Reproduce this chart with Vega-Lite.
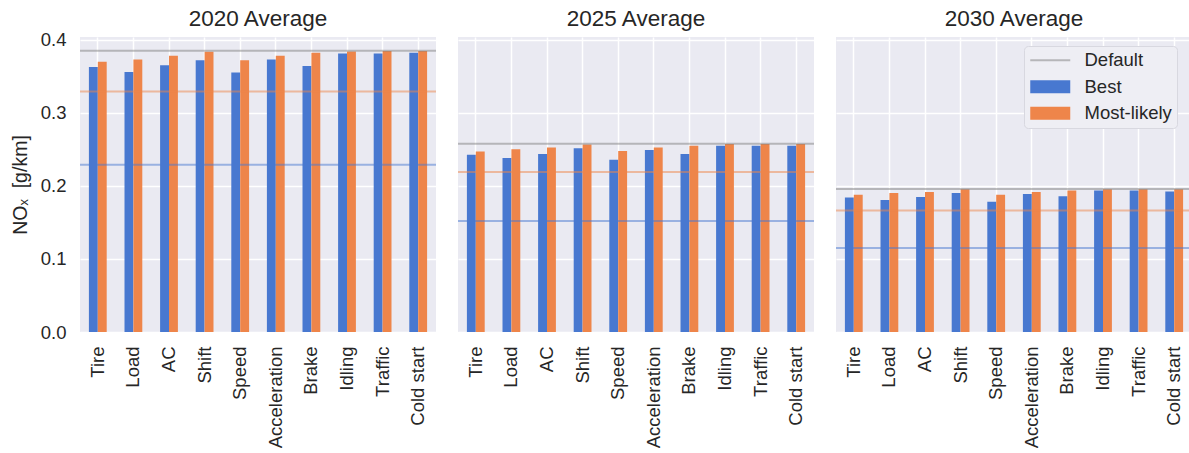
{
  "$schema": "https://vega.github.io/schema/vega-lite/v6.json",
  "padding": {"left": 10, "top": 7, "right": 0, "bottom": 0},
  "background": "white",
  "data": {
    "values": [
      {"kind": "bar", "year": "2020 Average", "factor": "Tire", "series": "Best", "value": 0.3625},
      {"kind": "bar", "year": "2020 Average", "factor": "Tire", "series": "Most-likely", "value": 0.370},
      {"kind": "bar", "year": "2020 Average", "factor": "Load", "series": "Best", "value": 0.3557},
      {"kind": "bar", "year": "2020 Average", "factor": "Load", "series": "Most-likely", "value": 0.373},
      {"kind": "bar", "year": "2020 Average", "factor": "AC", "series": "Best", "value": 0.365},
      {"kind": "bar", "year": "2020 Average", "factor": "AC", "series": "Most-likely", "value": 0.378},
      {"kind": "bar", "year": "2020 Average", "factor": "Shift", "series": "Best", "value": 0.372},
      {"kind": "bar", "year": "2020 Average", "factor": "Shift", "series": "Most-likely", "value": 0.3835},
      {"kind": "bar", "year": "2020 Average", "factor": "Speed", "series": "Best", "value": 0.355},
      {"kind": "bar", "year": "2020 Average", "factor": "Speed", "series": "Most-likely", "value": 0.372},
      {"kind": "bar", "year": "2020 Average", "factor": "Acceleration", "series": "Best", "value": 0.373},
      {"kind": "bar", "year": "2020 Average", "factor": "Acceleration", "series": "Most-likely", "value": 0.378},
      {"kind": "bar", "year": "2020 Average", "factor": "Brake", "series": "Best", "value": 0.364},
      {"kind": "bar", "year": "2020 Average", "factor": "Brake", "series": "Most-likely", "value": 0.382},
      {"kind": "bar", "year": "2020 Average", "factor": "Idling", "series": "Best", "value": 0.381},
      {"kind": "bar", "year": "2020 Average", "factor": "Idling", "series": "Most-likely", "value": 0.384},
      {"kind": "bar", "year": "2020 Average", "factor": "Traffic", "series": "Best", "value": 0.381},
      {"kind": "bar", "year": "2020 Average", "factor": "Traffic", "series": "Most-likely", "value": 0.3845},
      {"kind": "bar", "year": "2020 Average", "factor": "Cold start", "series": "Best", "value": 0.382},
      {"kind": "bar", "year": "2020 Average", "factor": "Cold start", "series": "Most-likely", "value": 0.3845},

      {"kind": "bar", "year": "2025 Average", "factor": "Tire", "series": "Best", "value": 0.2426},
      {"kind": "bar", "year": "2025 Average", "factor": "Tire", "series": "Most-likely", "value": 0.247},
      {"kind": "bar", "year": "2025 Average", "factor": "Load", "series": "Best", "value": 0.238},
      {"kind": "bar", "year": "2025 Average", "factor": "Load", "series": "Most-likely", "value": 0.250},
      {"kind": "bar", "year": "2025 Average", "factor": "AC", "series": "Best", "value": 0.2435},
      {"kind": "bar", "year": "2025 Average", "factor": "AC", "series": "Most-likely", "value": 0.2526},
      {"kind": "bar", "year": "2025 Average", "factor": "Shift", "series": "Best", "value": 0.2513},
      {"kind": "bar", "year": "2025 Average", "factor": "Shift", "series": "Most-likely", "value": 0.2567},
      {"kind": "bar", "year": "2025 Average", "factor": "Speed", "series": "Best", "value": 0.2357},
      {"kind": "bar", "year": "2025 Average", "factor": "Speed", "series": "Most-likely", "value": 0.2476},
      {"kind": "bar", "year": "2025 Average", "factor": "Acceleration", "series": "Best", "value": 0.249},
      {"kind": "bar", "year": "2025 Average", "factor": "Acceleration", "series": "Most-likely", "value": 0.2526},
      {"kind": "bar", "year": "2025 Average", "factor": "Brake", "series": "Best", "value": 0.2435},
      {"kind": "bar", "year": "2025 Average", "factor": "Brake", "series": "Most-likely", "value": 0.255},
      {"kind": "bar", "year": "2025 Average", "factor": "Idling", "series": "Best", "value": 0.255},
      {"kind": "bar", "year": "2025 Average", "factor": "Idling", "series": "Most-likely", "value": 0.2572},
      {"kind": "bar", "year": "2025 Average", "factor": "Traffic", "series": "Best", "value": 0.255},
      {"kind": "bar", "year": "2025 Average", "factor": "Traffic", "series": "Most-likely", "value": 0.2572},
      {"kind": "bar", "year": "2025 Average", "factor": "Cold start", "series": "Best", "value": 0.255},
      {"kind": "bar", "year": "2025 Average", "factor": "Cold start", "series": "Most-likely", "value": 0.2572},

      {"kind": "bar", "year": "2030 Average", "factor": "Tire", "series": "Best", "value": 0.1842},
      {"kind": "bar", "year": "2030 Average", "factor": "Tire", "series": "Most-likely", "value": 0.1879},
      {"kind": "bar", "year": "2030 Average", "factor": "Load", "series": "Best", "value": 0.1806},
      {"kind": "bar", "year": "2030 Average", "factor": "Load", "series": "Most-likely", "value": 0.1902},
      {"kind": "bar", "year": "2030 Average", "factor": "AC", "series": "Best", "value": 0.1847},
      {"kind": "bar", "year": "2030 Average", "factor": "AC", "series": "Most-likely", "value": 0.1915},
      {"kind": "bar", "year": "2030 Average", "factor": "Shift", "series": "Best", "value": 0.1902},
      {"kind": "bar", "year": "2030 Average", "factor": "Shift", "series": "Most-likely", "value": 0.1952},
      {"kind": "bar", "year": "2030 Average", "factor": "Speed", "series": "Best", "value": 0.1783},
      {"kind": "bar", "year": "2030 Average", "factor": "Speed", "series": "Most-likely", "value": 0.1879},
      {"kind": "bar", "year": "2030 Average", "factor": "Acceleration", "series": "Best", "value": 0.1888},
      {"kind": "bar", "year": "2030 Average", "factor": "Acceleration", "series": "Most-likely", "value": 0.1915},
      {"kind": "bar", "year": "2030 Average", "factor": "Brake", "series": "Best", "value": 0.1856},
      {"kind": "bar", "year": "2030 Average", "factor": "Brake", "series": "Most-likely", "value": 0.1938},
      {"kind": "bar", "year": "2030 Average", "factor": "Idling", "series": "Best", "value": 0.1938},
      {"kind": "bar", "year": "2030 Average", "factor": "Idling", "series": "Most-likely", "value": 0.1952},
      {"kind": "bar", "year": "2030 Average", "factor": "Traffic", "series": "Best", "value": 0.1938},
      {"kind": "bar", "year": "2030 Average", "factor": "Traffic", "series": "Most-likely", "value": 0.1952},
      {"kind": "bar", "year": "2030 Average", "factor": "Cold start", "series": "Best", "value": 0.1924},
      {"kind": "bar", "year": "2030 Average", "factor": "Cold start", "series": "Most-likely", "value": 0.1952},

      {"kind": "line", "year": "2020 Average", "series": "Default", "value": 0.385},
      {"kind": "line", "year": "2020 Average", "series": "Best", "value": 0.229},
      {"kind": "line", "year": "2020 Average", "series": "Most-likely", "value": 0.329},
      {"kind": "line", "year": "2025 Average", "series": "Default", "value": 0.2576},
      {"kind": "line", "year": "2025 Average", "series": "Best", "value": 0.152},
      {"kind": "line", "year": "2025 Average", "series": "Most-likely", "value": 0.219},
      {"kind": "line", "year": "2030 Average", "series": "Default", "value": 0.1956},
      {"kind": "line", "year": "2030 Average", "series": "Best", "value": 0.115},
      {"kind": "line", "year": "2030 Average", "series": "Most-likely", "value": 0.1664}
    ]
  },
  "facet": {
    "column": {
      "field": "year",
      "type": "nominal",
      "title": null,
      "header": {
        "labelFont": "Liberation Sans",
        "labelFontSize": 22.5,
        "labelColor": "#262626",
        "labelPadding": 7
      }
    }
  },
  "spacing": 20,
  "spec": {
    "width": 356,
    "height": 295,
    "layer": [
      {
        "transform": [{"filter": "datum.kind === 'bar'"}],
        "mark": {"type": "bar"},
        "encoding": {
          "x": {
            "field": "factor",
            "type": "nominal",
            "sort": ["Tire", "Load", "AC", "Shift", "Speed", "Acceleration", "Brake", "Idling", "Traffic", "Cold start"],
            "scale": {"paddingInner": 0, "paddingOuter": 0},
            "title": null,
            "axis": {"labelAngle": -90, "labelPadding": 14, "grid": true, "bandPosition": 0.5}
          },
          "xOffset": {
            "field": "series",
            "type": "nominal",
            "sort": ["Best", "Most-likely"],
            "scale": {"paddingInner": 0, "paddingOuter": 1}
          },
          "y": {
            "field": "value",
            "type": "quantitative",
            "scale": {"domain": [0, 0.4037], "nice": false, "zero": true},
            "title": "NOₓ\u00a0 [g/km]",
            "axis": {"values": [0, 0.1, 0.2, 0.3, 0.4], "format": ".1f", "labelPadding": 13, "titlePadding": 10, "titleFontSize": 19.5}
          },
          "color": {
            "field": "series",
            "type": "nominal",
            "scale": {"domain": ["Default", "Best", "Most-likely"], "range": ["#808080", "#4878D0", "#EE854A"]},
            "legend": {
              "title": null,
              "orient": "none",
              "legendX": 944,
              "legendY": 9,
              "labelFont": "Liberation Sans",
              "labelFontSize": 18.5,
              "labelColor": "#262626",
              "symbolSize": 400,
              "symbolOffset": 12,
              "labelOffset": 25,
              "rowPadding": 7.5,
              "padding": 5,
              "fillColor": "#EEEEF4",
              "strokeColor": "#D8D8E0",
              "cornerRadius": 4,
              "encode": {
                "symbols": {
                  "update": {
                    "shape": {"signal": "datum.value === 'Default' ? 'M-2,0L2,0' : 'M-2,-0.65L2,-0.65L2,0.65L-2,0.65Z'"},
                    "fill": {"scale": "color", "field": "value"},
                    "stroke": {"scale": "color", "field": "value"},
                    "strokeWidth": {"signal": "datum.value === 'Default' ? 2 : 0"},
                    "opacity": {"signal": "datum.value === 'Default' ? 0.5 : 1"}
                  }
                }
              }
            }
          }
        }
      },
      {
        "transform": [{"filter": "datum.kind === 'line'"}],
        "mark": {"type": "rule", "strokeWidth": 2, "opacity": 0.5},
        "encoding": {
          "y": {"field": "value", "type": "quantitative"},
          "color": {"field": "series", "type": "nominal"}
        }
      }
    ]
  },
  "config": {
    "view": {"fill": "#EAEAF2", "stroke": null},
    "axis": {
      "labelFont": "Liberation Sans",
      "labelFontSize": 18.5,
      "labelColor": "#262626",
      "titleFont": "Liberation Sans",
      "titleFontSize": 18,
      "titleFontWeight": "normal",
      "titleColor": "#262626",
      "domain": false,
      "ticks": false,
      "grid": true,
      "gridColor": "#FFFFFF",
      "gridWidth": 1.5,
      "gridOpacity": 1
    }
  }
}
